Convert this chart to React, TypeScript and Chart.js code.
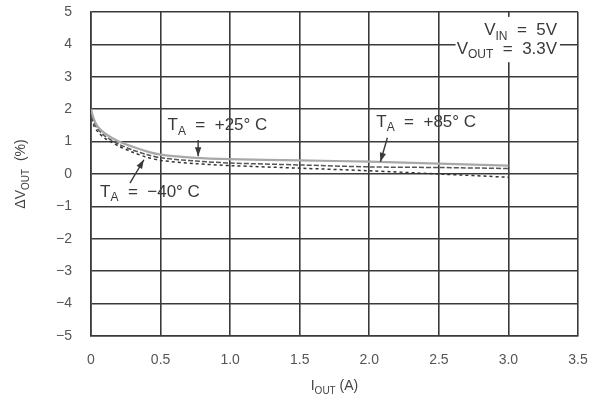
import React, { useEffect, useRef } from 'react';
import { Chart, registerables } from 'chart.js';
Chart.register(...registerables);

const currents = [0, 0.02, 0.05, 0.1, 0.2, 0.3, 0.4, 0.5, 0.75, 1.0, 1.5, 2.0, 2.5, 3.0];
const deltaT25 = [2.0, 1.7, 1.45, 1.25, 1.0, 0.84, 0.7, 0.6, 0.5, 0.46, 0.42, 0.38, 0.32, 0.26];
const deltaT85 = [2.0, 1.6, 1.38, 1.17, 0.92, 0.74, 0.6, 0.5, 0.4, 0.34, 0.28, 0.22, 0.2, 0.17];
const deltaTm40 = [1.9, 1.5, 1.3, 1.1, 0.86, 0.67, 0.52, 0.42, 0.32, 0.26, 0.18, 0.1, 0.0, -0.1];
const xTickLabels = ['0', '0.5', '1.0', '1.5', '2.0', '2.5', '3.0', '3.5'];
const yTickLabels = ['\u22125', '\u22124', '\u22123', '\u22122', '\u22121', '0', '1', '2', '3', '4', '5'];

type Part = { t: string; sub?: boolean };
const FONT = '"Liberation Sans", Arial, sans-serif';

function drawRich(ctx: CanvasRenderingContext2D, parts: Part[], x: number, y: number, align: 'left' | 'center' | 'right', size = 13) {
  const main = `${size}px ${FONT}`;
  const sub = `${Math.round(size * 0.7)}px ${FONT}`;
  let total = 0;
  const widths = parts.map((p) => {
    ctx.font = p.sub ? sub : main;
    const w = ctx.measureText(p.t).width;
    total += w;
    return w;
  });
  let cx = align === 'left' ? x : align === 'center' ? x - total / 2 : x - total;
  ctx.textAlign = 'left';
  ctx.textBaseline = 'middle';
  parts.forEach((p, i) => {
    ctx.font = p.sub ? sub : main;
    ctx.fillText(p.t, cx, p.sub ? y + size * 0.35 : y);
    cx += widths[i];
  });
}

function arrow(ctx: CanvasRenderingContext2D, x1: number, y1: number, x2: number, y2: number) {
  const a = Math.atan2(y2 - y1, x2 - x1);
  ctx.beginPath();
  ctx.moveTo(x1, y1);
  ctx.lineTo(x2, y2);
  ctx.lineWidth = 1.4;
  ctx.stroke();
  const L = 9, W = 3.2;
  ctx.beginPath();
  ctx.moveTo(x2, y2);
  ctx.lineTo(x2 - L * Math.cos(a) + W * Math.sin(a), y2 - L * Math.sin(a) - W * Math.cos(a));
  ctx.lineTo(x2 - L * Math.cos(a) - W * Math.sin(a), y2 - L * Math.sin(a) + W * Math.cos(a));
  ctx.closePath();
  ctx.fill();
}

const labelsPlugin = {
  id: 'labelsPlugin',
  afterDraw(chart: any) {
    const ctx: CanvasRenderingContext2D = chart.ctx;
    const xs = chart.scales.x;
    const ys = chart.scales.y;
    const px = (v: number) => xs.getPixelForValue(v);
    const py = (v: number) => ys.getPixelForValue(v);
    ctx.save();
    ctx.fillStyle = '#3a3a3a';
    ctx.strokeStyle = '#3a3a3a';

    // annotations
    drawRich(ctx, [{ t: 'T' }, { t: 'A', sub: true }, { t: '  =  +25\u00b0 C' }], px(0.55), py(1.5), 'left', 17);
    arrow(ctx, px(0.77), py(1.05), px(0.77), py(0.55));
    drawRich(ctx, [{ t: 'T' }, { t: 'A', sub: true }, { t: '  =  +85\u00b0 C' }], px(2.05), py(1.6), 'left', 17);
    arrow(ctx, px(2.13), py(1.12), px(2.08), py(0.38));
    drawRich(ctx, [{ t: 'T' }, { t: 'A', sub: true }, { t: '  =  \u221240\u00b0 C' }], px(0.065), py(-0.55), 'left', 17);
    arrow(ctx, px(0.28), py(-0.28), px(0.38), py(0.44));

    // conditions box
    ctx.fillStyle = '#ffffff';
    ctx.fillRect(px(2.62), py(4.85), px(3.37) - px(2.62), py(3.45) - py(4.85));
    ctx.fillStyle = '#3a3a3a';
    drawRich(ctx, [{ t: 'V' }, { t: 'IN', sub: true }, { t: '  =  5V' }], px(3.35), py(4.42), 'right', 17);
    drawRich(ctx, [{ t: 'V' }, { t: 'OUT', sub: true }, { t: '  =  3.3V' }], px(3.35), py(3.86), 'right', 17);

    // axis titles
    ctx.fillStyle = '#444';
    drawRich(ctx, [{ t: 'I' }, { t: 'OUT', sub: true }, { t: ' (A)' }], (xs.left + xs.right) / 2, 386, 'center', 14);
    ctx.save();
    ctx.translate(21, (ys.top + ys.bottom) / 2);
    ctx.rotate(-Math.PI / 2);
    drawRich(ctx, [{ t: '\u0394V' }, { t: 'OUT', sub: true }, { t: '  (%)' }], 0, 0, 'center', 14);
    ctx.restore();
    ctx.restore();
  },
};

export default function App() {
  const ref = useRef<HTMLCanvasElement>(null);
  useEffect(() => {
    document.body.style.margin = '0';
    const mk = (arr: number[]) => currents.map((x, i) => ({ x, y: arr[i] }));
    const chart = new Chart(ref.current!, {
      type: 'line',
      data: {
        datasets: [
          { label: '+25', data: mk(deltaT25), borderColor: '#a8a8a8', borderWidth: 2.2, pointRadius: 0, tension: 0.3, fill: false },
          { label: '+85', data: mk(deltaT85), borderColor: '#555', borderWidth: 1.5, borderDash: [5, 2], pointRadius: 0, tension: 0.3, fill: false },
          { label: '-40', data: mk(deltaTm40), borderColor: '#333', borderWidth: 1.5, borderDash: [3, 3], pointRadius: 0, tension: 0.3, fill: false },
        ],
      },
      options: {
        animation: false,
        responsive: true,
        maintainAspectRatio: false,
        layout: { padding: { left: 0, right: 14, top: 12, bottom: 0 } },
        plugins: { legend: { display: false }, tooltip: { enabled: false }, title: { display: false } },
        scales: {
          x: {
            type: 'linear',
            min: 0,
            max: 3.5,
            ticks: {
              stepSize: 0.5,
              padding: 16,
              color: '#555',
              font: { family: FONT, size: 14 },
              callback: (v: any) => xTickLabels[Math.round(Number(v) / 0.5)] ?? '',
            },
            grid: { color: '#3a3a3a', lineWidth: 1.6, drawTicks: false },
            border: { display: true, color: '#3a3a3a', width: 1.6 },
            afterFit: (s: any) => { s.height = 72; s.paddingLeft = 0; s.paddingRight = 0; },
          },
          y: {
            type: 'linear',
            min: -5,
            max: 5,
            ticks: {
              stepSize: 1,
              padding: 19,
              color: '#555',
              font: { family: FONT, size: 14 },
              callback: (v: any) => yTickLabels[Math.round(Number(v)) + 5] ?? '',
            },
            grid: { color: '#3a3a3a', lineWidth: 1.6, drawTicks: false },
            border: { display: true, color: '#3a3a3a', width: 1.6 },
            afterFit: (s: any) => { s.width = 91; s.paddingTop = 0; s.paddingBottom = 0; },
          },
        },
      },
      plugins: [labelsPlugin],
    } as any);
    return () => chart.destroy();
  }, []);
  return (
    <div style={{ position: 'absolute', left: 0, top: 0, width: 592, height: 408, background: '#fff' }}>
      <canvas ref={ref} />
    </div>
  );
}
